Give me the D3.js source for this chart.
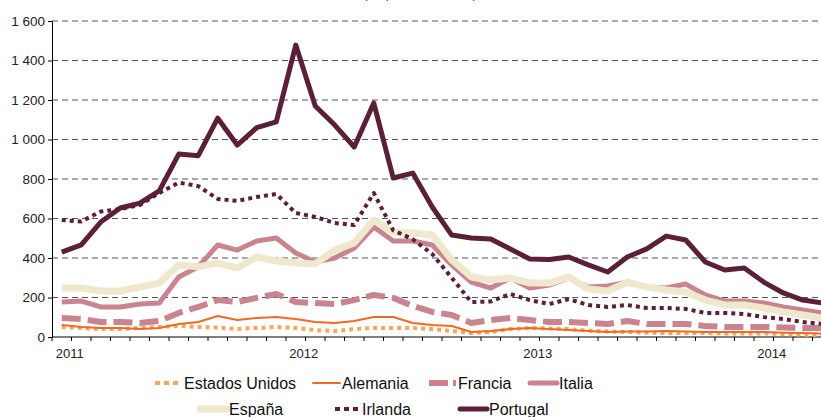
<!DOCTYPE html>
<html>
<head>
<meta charset="utf-8">
<script src="https://cdn.jsdelivr.net/npm/d3@7"></script>
<style>
  body { margin: 0; background: #fff; }
  svg { display: block; font-family: "Liberation Sans", Arial, sans-serif; }
</style>
</head>
<body>
<svg id="chart"></svg>
<script>
// months Jan 2011 .. Apr 2014
const months = [
  "2011-01","2011-02","2011-03","2011-04","2011-05","2011-06","2011-07","2011-08","2011-09","2011-10","2011-11","2011-12",
  "2012-01","2012-02","2012-03","2012-04","2012-05","2012-06","2012-07","2012-08","2012-09","2012-10","2012-11","2012-12",
  "2013-01","2013-02","2013-03","2013-04","2013-05","2013-06","2013-07","2013-08","2013-09","2013-10","2013-11","2013-12",
  "2014-01","2014-02","2014-03","2014-04"
];
const yearLabels = ["2011", "2012", "2013", "2014"];
const yTicks = [0, 200, 400, 600, 800, 1000, 1200, 1400, 1600];

const estadosUnidos = [51,46,40,40,46,51,56,51,48,40,46,51,46,35,30,40,46,46,46,40,30,20,25,40,46,43,40,32,28,25,22,20,20,20,18,18,18,15,12,10];
const alemania = [61,51,46,46,40,46,66,76,106,86,96,101,91,76,71,81,101,101,71,61,56,25,30,40,46,40,35,30,25,28,28,30,28,25,25,25,25,22,20,18];
const francia = [96,91,76,76,71,81,122,152,187,177,198,218,177,172,167,187,213,198,157,127,111,71,86,96,86,76,76,71,66,81,66,66,66,56,51,51,51,48,46,46];
const italia = [177,182,152,152,167,172,304,355,466,440,486,501,425,380,400,451,557,486,486,466,365,278,248,299,248,263,299,253,258,278,253,248,268,213,182,182,172,152,137,122];
const espana = [248,248,233,233,253,273,365,355,375,349,405,385,375,370,440,476,592,532,527,516,390,304,289,299,273,273,304,243,233,278,253,238,228,187,162,162,147,127,111,96];
const irlanda = [592,585,635,648,668,729,782,764,699,689,709,724,628,608,577,567,729,540,495,420,300,177,180,218,187,167,192,162,152,162,147,147,142,122,122,116,101,91,76,66];
const portugal = [430,466,582,653,678,740,926,918,1108,972,1060,1089,1478,1170,1073,962,1185,805,830,658,516,501,496,446,395,392,405,365,329,405,446,511,491,380,339,349,278,223,187,172];

const seriesList = [
  { name: "Estados Unidos", values: estadosUnidos, color: "#f8a55e", width: 4, dash: "4,4" },
  { name: "Alemania", values: alemania, color: "#f26a21", width: 2, dash: null },
  { name: "Francia", values: francia, color: "#c9848f", width: 6, dash: "19,7" },
  { name: "Italia", values: italia, color: "#c9848f", width: 5, dash: null },
  { name: "España", values: espana, color: "#efe8cd", width: 7, dash: null },
  { name: "Irlanda", values: irlanda, color: "#5b1f37", width: 4, dash: "4,4" },
  { name: "Portugal", values: portugal, color: "#5b1f37", width: 5, dash: null }
];

const W = 821, H = 417;
const svg = d3.select("#chart").attr("width", W).attr("height", H);

const x = d3.scaleBand().domain(months).range([52, 832]).padding(0);
const y = d3.scaleLinear().domain([0, 1600]).range([337, 21]);
const cx = m => x(m) + x.bandwidth() / 2;

// title, mostly cut at the top of the picture
svg.append("text")
  .attr("x", 420).attr("y", -2)
  .attr("text-anchor", "middle")
  .attr("font-size", 13)
  .attr("fill", "#444")
  .text("(en puntos básicos)");

// gridlines
svg.append("g")
  .selectAll("line")
  .data(yTicks.filter(d => d > 0))
  .join("line")
  .attr("x1", 52).attr("x2", 832)
  .attr("y1", d => y(d)).attr("y2", d => y(d))
  .attr("stroke", "#555")
  .attr("stroke-width", 1)
  .attr("stroke-dasharray", "6,4");

// y axis
const yAxis = svg.append("g")
  .attr("transform", "translate(52,0)")
  .call(d3.axisLeft(y).tickValues(yTicks).tickSize(4).tickPadding(3)
    .tickFormat(d => d3.format(",")(d).replace(",", " ")));
yAxis.select(".domain").attr("stroke", "#000");
yAxis.selectAll("text").attr("font-size", 13.5).attr("fill", "#222")
  .attr("font-family", "'Liberation Sans', Arial, sans-serif");

// x axis line + ticks on month boundaries
svg.append("line")
  .attr("x1", 52).attr("x2", 832)
  .attr("y1", y(0)).attr("y2", y(0))
  .attr("stroke", "#000").attr("stroke-width", 1.2);

svg.append("g")
  .selectAll("line")
  .data(months)
  .join("line")
  .attr("x1", d => x(d)).attr("x2", d => x(d))
  .attr("y1", y(0)).attr("y2", y(0) + 4)
  .attr("stroke", "#000");

svg.append("g")
  .selectAll("text")
  .data(yearLabels)
  .join("text")
  .attr("x", d => cx(d + "-01") + 8)
  .attr("y", 358)
  .attr("text-anchor", "middle")
  .attr("font-size", 13)
  .attr("fill", "#222")
  .text(d => d);

// lines
const line = d3.line()
  .x((d, i) => cx(months[i]))
  .y(d => y(d));

svg.append("g")
  .selectAll("path")
  .data(seriesList)
  .join("path")
  .attr("d", d => line(d.values))
  .attr("fill", "none")
  .attr("stroke", d => d.color)
  .attr("stroke-width", d => d.width)
  .attr("stroke-dasharray", d => d.dash)
  .attr("stroke-linejoin", "round");

// legend
const legendPos = [
  { x: 155, y: 384 }, { x: 313, y: 384 }, { x: 429, y: 384 }, { x: 530, y: 384 },
  { x: 200, y: 410 }, { x: 335, y: 410 }, { x: 460, y: 410 }
];
const lg = svg.append("g")
  .selectAll("g")
  .data(seriesList)
  .join("g")
  .attr("transform", (d, i) => `translate(${legendPos[i].x},${legendPos[i].y})`);

lg.append("line")
  .attr("x1", 0).attr("x2", 27)
  .attr("y1", -1).attr("y2", -1)
  .attr("stroke", d => d.color)
  .attr("stroke-width", d => d.width)
  .attr("stroke-dasharray", d => d.dash ? (d.name === "Francia" ? "19,5" : "5,4") : null)
  .attr("stroke-linecap", d => d.dash ? "butt" : "round");

lg.append("text")
  .attr("x", d => d.name === "Irlanda" ? 27 : 29)
  .attr("y", 5)
  .attr("font-size", 16)
  .attr("fill", "#111")
  .text(d => d.name);
</script>
</body>
</html>
